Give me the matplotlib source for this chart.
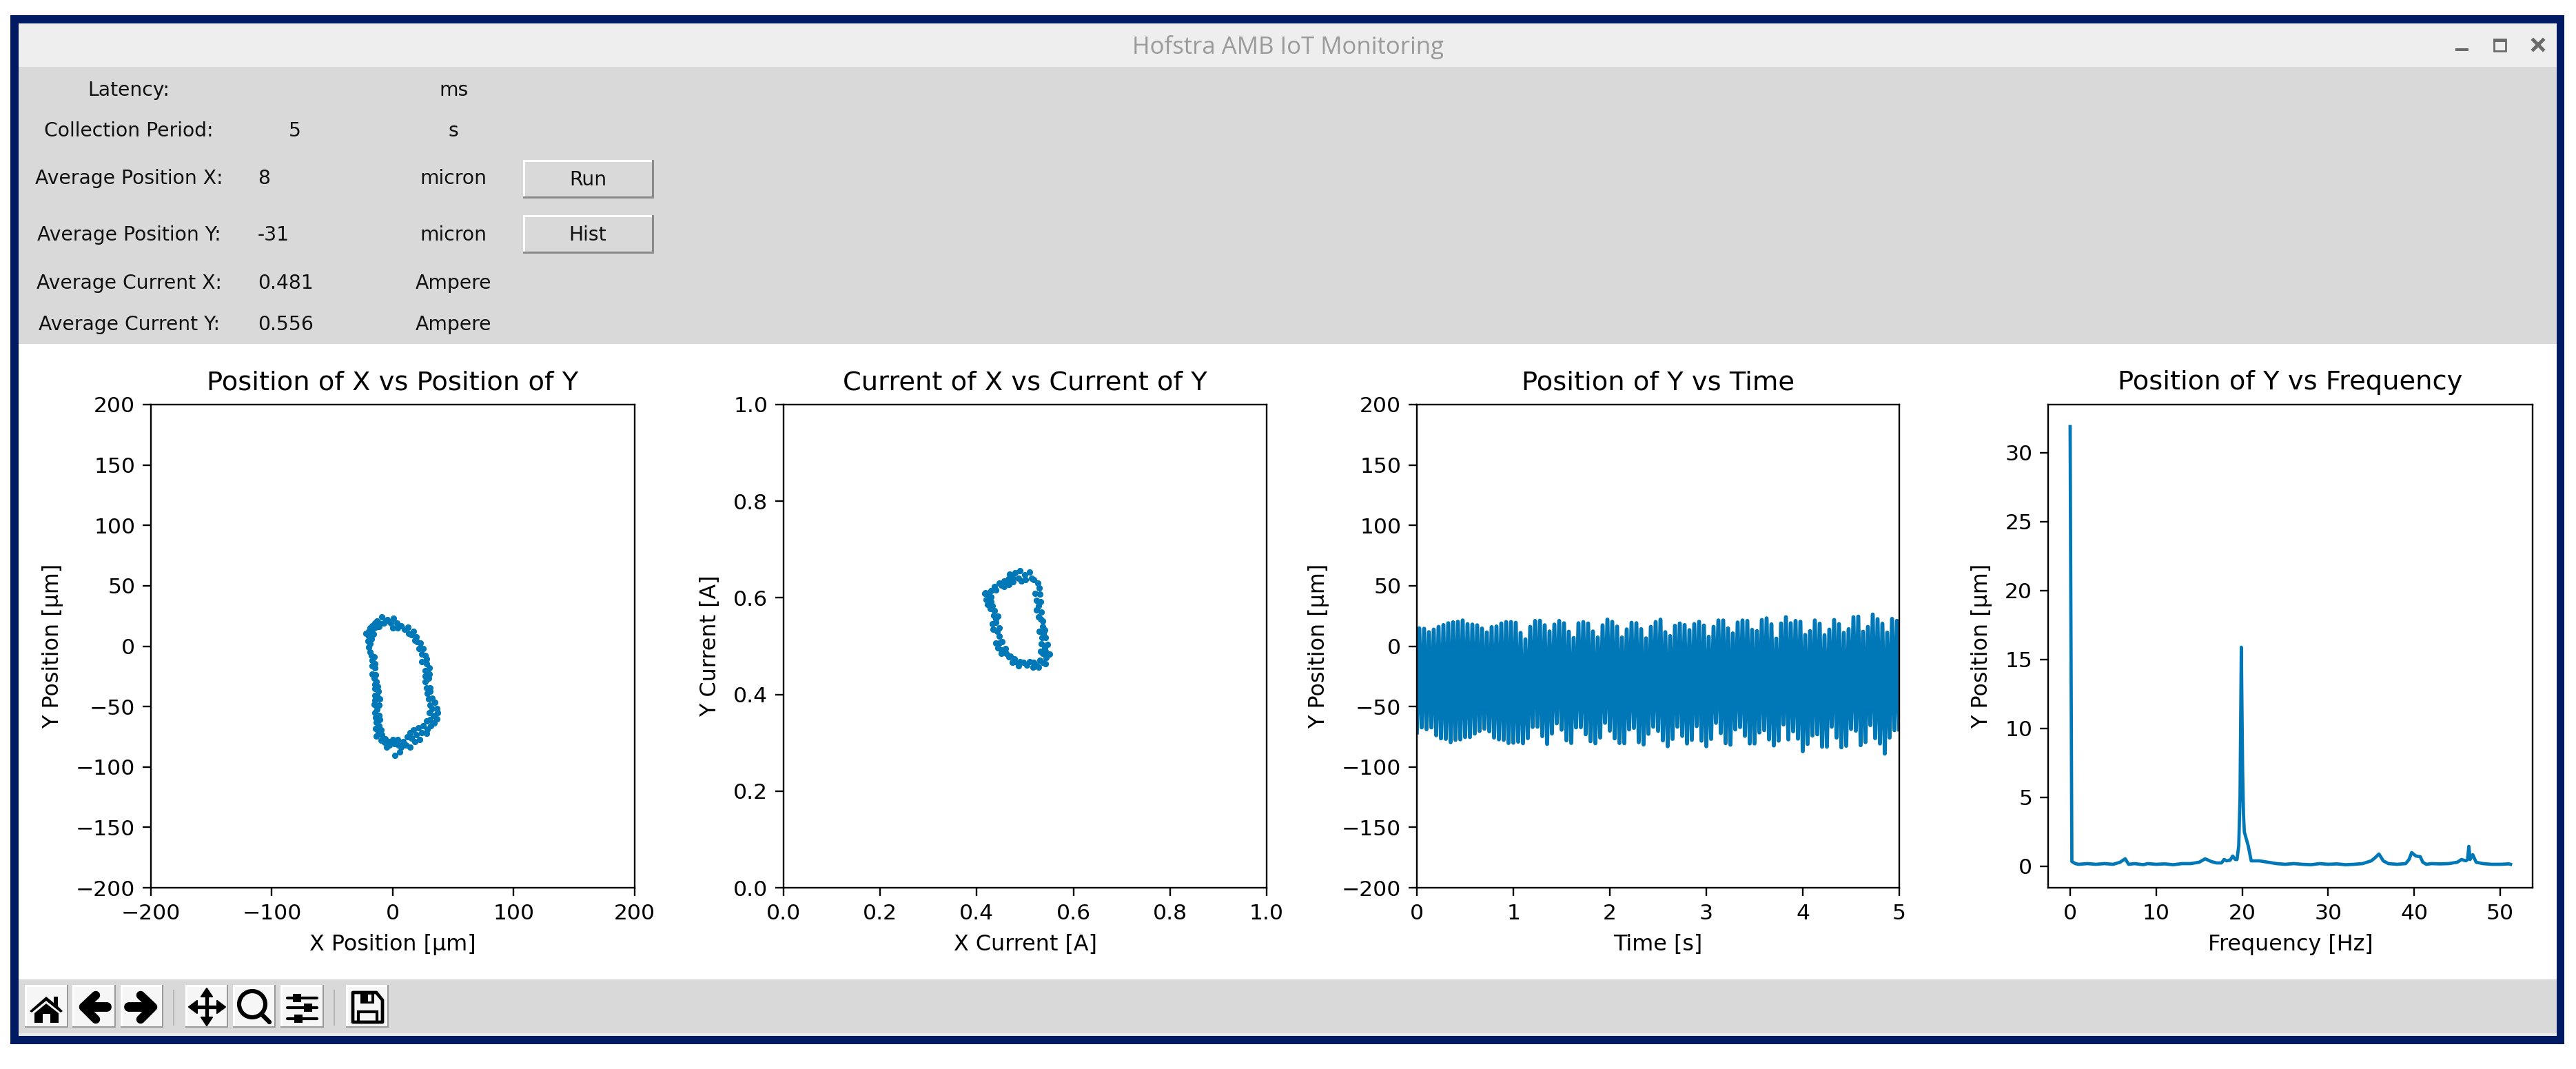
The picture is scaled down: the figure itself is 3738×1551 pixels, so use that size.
import numpy as np
import matplotlib
matplotlib.use("Agg")
import matplotlib.pyplot as plt
from matplotlib.patches import Rectangle, Polygon, Circle

W, H = 3738, 1551
BLUE = '#0077b6'
NAVY = '#001b63'
GRAY = '#d9d9d9'

# ---------------------------- data ----------------------------
pos_x = [-8.8,-13,-11.1,-14.9,-16.8,-14,-18.7,-16.8,-19.7,-22.1,-18.3,-19.7,-20.6,-17.8,-18.7,-19.7,-18.7,-17.8,-15.3,-16.8,
         -14.9,-16.8,-14.5,-16.8,-14,-15.3,-13.4,-14.9,-12.6,-14.5,-12,-14.9,-13,-10.7,-14.5,-15.3,-11.1,-13,-14.5,-11.1,
         -14,-10.7,-13.4,-11.5,-14,-9.6,-12,-13.4,-8.8,-9.6,-6.4,-6.9,-3.5,-4.8,-2.6,0.3,1.3,4.1,4.5,7,1.8,6,8.9,10.8,14.6,
         12.1,15.5,14.6,18.4,22.2,19.3,17.4,21.2,24.1,27.9,25,28.8,27.9,31.7,30.7,34.5,36.8,33.6,37.4,30.4,32.6,36.4,34.9,
         31.1,29.8,32.6,28.5,31.1,27.9,30.7,27,29.8,27,30.4,27,30.4,27.9,24.1,27.9,26.9,24.1,25,21.6,22.7,20.3,18.4,19.3,
         15.5,13.2,17.4,12.7,9.8,7,4.1,3.7,0.7,0.3,-1.6,-4.4,-7.3,-5.8,-11.1,-15.9]
pos_y = [24.2,20.8,18.9,19.3,17,15.5,15.1,13.6,12.3,10.7,10.3,8.4,4.1,6,2.2,-1.1,-4.9,-7.7,-8.7,-11.5,
         -14.4,-16.3,-18.2,-22.9,-23.9,-26.7,-29.6,-31.5,-33.4,-35.3,-37.2,-41,-40,-43.9,-44.8,-48,-48.6,-52.4,-55.3,-57.2,
         -59.1,-61,-62.9,-65.7,-68.2,-69.5,-71.4,-74.7,-73.3,-77.7,-76.6,-79.6,-79,-83.8,-81.9,-77.1,-80.9,-77.1,-81.9,-83.8,-90.5,-87.6,-79,-81.9,-83.4,
         -75.2,-76.2,-71.4,-79,-77.1,-73.3,-69.5,-67.6,-71.4,-72.4,-65.7,-68.6,-61.9,-65.7,-61,-63.8,-60,-57.2,-55.3,-55.3,-51.5,-51.5,-46.7,
         -48.6,-43.9,-42.9,-39.1,-37.2,-34.3,-34.3,-29.6,-26.7,-24.8,-22.9,-20.1,-18.2,-14.4,-13,-10.6,-7.7,-6.8,-2,-2,2.7,3.7,4.6,7.9,
         9.4,10.4,12.3,15.5,14.2,17,15.1,19.3,23.1,15.1,19.3,21.8,18.9,20.8,16.1,9.8]

cur_x = [.490,.480,.468,.509,.499,.487,.475,.466,.456,.447,.437,.451,.440,.430,.418,.425,.466,.456,.475,.492,.501,.513,.518,.527,.529,
         .520,.531,.524,.532,.528,.523,.534,.528,.537,.537,.529,.541,.535,.542,.547,.533,.540,.550,.537,.544,.542,.530,.528,.516,.518,
         .509,.497,.487,.490,.478,.473,.470,.461,.451,.459,.444,.440,.452,.447,.442,.446,.433,.440,.432,.444,.435,.436,.428,.432,.422,
         .419,.429,.416,.447,.451,.466,.480,.504,.523,.537,.542,.532,.461,.472,.430,.439,.532,.538]
cur_y = [.656,.652,.649,.653,.647,.641,.641,.640,.635,.630,.623,.626,.616,.615,.610,.604,.628,.623,.633,.635,.638,.641,.638,.630,.621,
         .609,.607,.595,.592,.583,.575,.571,.561,.552,.540,.530,.533,.518,.518,.504,.505,.497,.483,.485,.476,.464,.471,.457,.457,.466,
         .468,.466,.459,.468,.473,.466,.480,.485,.485,.495,.497,.507,.509,.521,.530,.538,.535,.549,.547,.562,.564,.573,.578,.583,.586,
         .597,.592,.609,.507,.492,.478,.468,.461,.461,.466,.490,.490,.635,.643,.602,.557,.557,.526]

y_tops = [14.8,14.4,11.6,13.7,16,17.5,19,19.8,20.2,21.3,18.3,17.9,17.3,14.6,11.4,15.8,16.3,18.8,20,20,19.4,11,5.7,16,20.9,
          21.1,17.3,12.2,17.9,20.9,19,12,6.8,19,20,18.8,12.2,7.2,17.3,22,20.2,16.2,7.2,13.9,19.4,19,14.1,6.5,16,20,
          22,11.6,8.4,16.9,18.8,17.5,13.3,18.3,20.2,17.1,7.8,16,21.3,21.3,14.8,10.6,19.6,21.3,20.9,13.5,12.5,21.7,23,18.1,6.3,
          18.8,24,19,20.9,20.2,9.3,12.5,21.3,18.6,9.1,13.7,21.7,18.3,11,14.1,24,24.5,12,16,26.2,22.4,18.6,11.2,22.6,21]
y_bottoms = [-71.5,-67.3,-68.8,-67.3,-73.8,-76.4,-76.8,-79.5,-77.6,-77.2,-75.3,-75.3,-72.4,-70.2,-68.4,-70.5,-75.7,-77.2,-77.6,-80.2,-80,-79.1,-80.4,-76.2,-66.9,
             -66.7,-74.5,-81,-72.4,-63.9,-69.2,-78,-80.2,-67.3,-67.1,-73,-78.7,-80.4,-75.7,-63.5,-70,-76.4,-80.2,-80.4,-69,-67.7,-79.5,-81.4,-72.6,-66.7,
             -70.2,-78.1,-82.9,-76.8,-66.7,-74.3,-80.6,-77.6,-66.2,-78.3,-82.9,-76.8,-63.5,-72,-80.4,-81.6,-69,-67,-74.3,-80.6,-80.6,-71.5,-69.6,-77.2,-82.3,
             -78.3,-64.8,-77.2,-70.5,-76.6,-87,-81,-74,-73,-83.3,-83.3,-66.7,-75.7,-83.8,-82.5,-68.6,-70,-82,-79.5,-65.4,-76.2,-80.6,-89,-75.7,-69.6,-69]
half_cycle = 0.025  # seconds between an extreme and the next one of the 20 Hz oscillation
y_position = np.empty(len(y_tops) + len(y_bottoms))
y_position[0::2] = y_bottoms
y_position[1::2] = y_tops
time_axis = np.arange(len(y_position)) * half_cycle

freq = [0,0.2,0.6,1,2,3,4,5,5.8,6.4,6.8,7.5,8.5,9,10,11,12,13,14,15,15.7,16.4,17,17.6,17.9,18.2,18.6,18.9,19.2,19.4,19.6,19.75,19.9,
        20.05,20.15,20.25,20.7,21.05,22,23,24,25,26,27,28,29,30,31,32,33,34,34.5,35,35.4,35.9,36.4,37,38,39,39.4,39.7,40.2,40.7,41,41.4,42,43,
        44,45,45.5,46,46.2,46.35,46.5,46.8,47.2,48,49,50,51,51.2]
amp = [31.9,0.35,0.2,0.15,0.2,0.15,0.2,0.15,0.3,0.55,0.15,0.2,0.12,0.2,0.15,0.18,0.12,0.2,0.2,0.3,0.55,0.35,0.25,0.25,0.5,0.4,0.45,0.75,0.5,0.5,1.5,5,15.9,
       7,3.8,2.5,1.5,0.4,0.4,0.3,0.2,0.15,0.2,0.15,0.12,0.2,0.15,0.18,0.12,0.15,0.2,0.3,0.4,0.6,0.9,0.4,0.2,0.15,0.2,0.5,1.0,0.75,0.7,0.3,0.15,0.2,0.18,
       0.2,0.3,0.5,0.4,0.5,1.45,0.5,0.85,0.3,0.2,0.15,0.15,0.18,0.15]

info_labels = ['Latency:', 'Collection Period:', 'Average Position X:', 'Average Position Y:', 'Average Current X:', 'Average Current Y:']
info_values = ['', '5', '8', '-31', '0.481', '0.556']
info_units = ['ms', 's', 'micron', 'micron', 'Ampere', 'Ampere']
button_labels = ['Run', 'Hist']
window_title = 'Hofstra AMB IoT Monitoring'

# ---------------------------- window chrome ----------------------------
fig = plt.figure(figsize=(W / 100, H / 100), dpi=100, facecolor='white')
bg = fig.add_axes([0, 0, 1, 1], zorder=0)
bg.set_xlim(0, W)
bg.set_ylim(H, 0)
bg.axis('off')


def rect(x0, y0, x1, y1, **kw):
    kw.setdefault('lw', 0)
    bg.add_patch(Rectangle((x0, y0), x1 - x0, y1 - y0, **kw))


rect(15, 22, 3721, 1515, fc=NAVY)
rect(27, 34, 3710, 1503, fc='white')
rect(27, 34, 3710, 97, fc='#eeeeee')
rect(27, 97, 3710, 499, fc=GRAY)
rect(27, 1421, 3710, 1503, fc=GRAY)
rect(27, 1499, 3710, 1503, fc='#eaeaea')

bg.text(1869, 69, window_title, ha='center', va='center', fontsize=25, color='#9a9a9a', family='Open Sans')
rect(3563, 70, 3582, 74, fc='#6a6a6a')
rect(3619, 57, 3636, 74, fc='none', ec='#6a6a6a', lw=2)
rect(3618, 56, 3637, 61, fc='#6a6a6a')
bg.plot([3676, 3690], [58, 72], color='#6a6a6a', lw=3.6)
bg.plot([3676, 3690], [72, 58], color='#6a6a6a', lw=3.6)


def bevel(x0, y0, x1, y1, fc, hi='white', lo='#8a8a8a', t=3):
    rect(x0, y0, x1, y1, fc=fc)
    rect(x0, y0, x1, y0 + t, fc=hi)
    rect(x0, y0, x0 + t, y1, fc=hi)
    rect(x0, y1 - t, x1, y1, fc=lo)
    rect(x1 - t, y0, x1, y1, fc=lo)


rows = [131, 190, 259, 341, 411, 471]
panel_fs = 20.3
for y, lab, val, unit in zip(rows, info_labels, info_values, info_units):
    bg.text(187, y, lab, ha='center', va='center', fontsize=panel_fs, color='#111111')
    if val == '5':
        bg.text(428, y, val, ha='center', va='center', fontsize=panel_fs, color='#111111')
    elif val:
        bg.text(374, y, val, ha='left', va='center', fontsize=panel_fs, color='#111111')
    bg.text(658, y, unit, ha='center', va='center', fontsize=panel_fs, color='#111111')

for (y0, y1), lab in zip([(232, 288), (312, 368)], button_labels):
    bevel(759, y0, 949, y1, GRAY)
    bg.text(853, (y0 + y1) / 2 + 1, lab, ha='center', va='center', fontsize=panel_fs, color='#111111')

# toolbar buttons
for x0, x1 in [(36, 99), (105, 168), (175, 237), (269, 331), (338, 400), (407, 470), (502, 564)]:
    bevel(x0, 1429, x1, 1491, '#f6f6f6', hi='white', lo='#9a9a9a', t=2.5)
rect(251, 1436, 253, 1488, fc='#b5b5b5')
rect(484, 1436, 486, 1488, fc='#b5b5b5')

K = 'black'
# home
bg.add_patch(Polygon([(43, 1467), (67, 1446), (78, 1455), (78, 1446), (84, 1446), (84, 1460), (91, 1467), (88, 1469), (67, 1452), (46, 1469)], fc=K, lw=0))
bg.add_patch(Polygon([(50, 1470), (67, 1456), (85, 1470), (85, 1484), (73, 1484), (73, 1471), (62, 1471), (62, 1484), (50, 1484)], fc=K, lw=0))
# back / forward
bg.plot([155, 122], [1461, 1461], color=K, lw=10, solid_capstyle='round')
bg.plot([139, 121, 139], [1444, 1461, 1479], color=K, lw=9, solid_capstyle='round', solid_joinstyle='round')
bg.plot([187, 220], [1461, 1461], color=K, lw=10, solid_capstyle='round')
bg.plot([204, 222, 204], [1444, 1461, 1479], color=K, lw=9, solid_capstyle='round', solid_joinstyle='round')
# pan
bg.plot([280, 322], [1461, 1461], color=K, lw=3.8)
bg.plot([300, 300], [1440, 1482], color=K, lw=3.8)
for pts in ([(300, 1434), (292, 1446), (308, 1446)], [(300, 1488), (292, 1476), (308, 1476)],
            [(274, 1461), (286, 1452), (286, 1470)], [(327, 1461), (315, 1452), (315, 1470)]):
    bg.add_patch(Polygon(pts, fc=K, ec=K, lw=1.5, joinstyle='round'))
# zoom
bg.add_patch(Circle((366, 1457), 19, fc='none', ec=K, lw=4.4))
bg.plot([379, 391], [1471, 1483], color=K, lw=4.6, solid_capstyle='round')
# sliders
for y, kx in [(1448, 431), (1462, 447), (1478, 433)]:
    bg.plot([417, 460], [y, y], color=K, lw=3, solid_capstyle='round')
    rect(kx - 6, y - 6, kx + 6, y + 6, fc=K)
# save
bg.add_patch(Polygon([(512, 1440), (546, 1440), (555, 1451), (555, 1483), (512, 1483)], fc='none', ec=K, lw=3.4, joinstyle='round'))
rect(523, 1440, 543, 1456, fc=K)
rect(534, 1443, 539, 1453, fc='#f6f6f6')
rect(520, 1468, 547, 1483, fc='none', ec=K, lw=3)


# ---------------------------- plots ----------------------------
def make_axes(x0, x1, y0=587, y1=1288):
    ax = fig.add_axes([x0 / W, 1 - y1 / H, (x1 - x0) / W, (y1 - y0) / H], zorder=2)
    ax.tick_params(labelsize=22.6, length=8.4, width=1.7, pad=8)
    for s in ax.spines.values():
        s.set_linewidth(1.7)
    return ax


def label(ax, title, xl, yl):
    ax.set_title(title, fontsize=27.6, pad=15.5)
    ax.set_xlabel(xl, fontsize=22.9, labelpad=11)
    ax.set_ylabel(yl, fontsize=22.9, labelpad=13)


ax1 = make_axes(219, 920.5)
ax1.scatter(pos_x, pos_y, s=44, color=BLUE, linewidths=0)
ax1.set_xlim(-200, 200)
ax1.set_ylim(-200, 200)
ax1.set_xticks(np.arange(-200, 201, 100))
ax1.set_yticks(np.arange(-200, 201, 50))
label(ax1, 'Position of X vs Position of Y', 'X Position [µm]', 'Y Position [µm]')

ax2 = make_axes(1137, 1838)
ax2.scatter(cur_x, cur_y, s=44, color=BLUE, linewidths=0)
ax2.set_xlim(0, 1)
ax2.set_ylim(0, 1)
label(ax2, 'Current of X vs Current of Y', 'X Current [A]', 'Y Current [A]')

ax3 = make_axes(2056, 2756)
ax3.plot(time_axis, y_position, color=BLUE, lw=4.2)
ax3.set_xlim(0, 5)
ax3.set_ylim(-200, 200)
ax3.set_yticks(np.arange(-200, 201, 50))
label(ax3, 'Position of Y vs Time', 'Time [s]', 'Y Position [µm]')

ax4 = make_axes(2972, 3675)
ax4.plot(freq, amp, color=BLUE, lw=3.4)
ax4.set_xlim(-2.56, 53.76)
ax4.set_ylim(-1.55, 33.5)
ax4.set_xticks(np.arange(0, 51, 10))
ax4.set_yticks(np.arange(0, 31, 5))
label(ax4, 'Position of Y vs Frequency', 'Frequency [Hz]', 'Y Position [µm]')

fig.savefig('out.png', dpi=100, facecolor='white')
